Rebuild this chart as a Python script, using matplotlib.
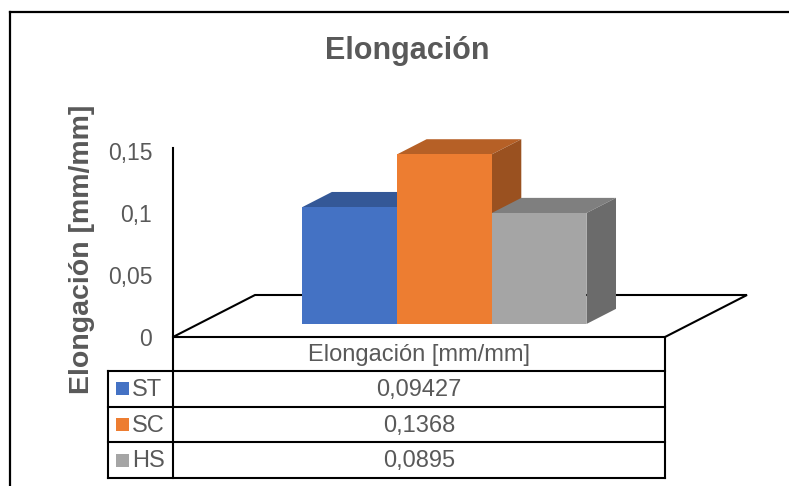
import matplotlib.pyplot as plt
from matplotlib.patches import Polygon, Rectangle
from matplotlib.lines import Line2D
from matplotlib.ticker import FuncFormatter
import numpy as np

plt.rcParams['font.family'] = ['Liberation Sans', 'DejaVu Sans']

series = ['ST', 'SC', 'HS']
elongacion = [0.09427, 0.1368, 0.0895]
category = 'Elongación [mm/mm]'
colors = ['#4472C4', '#ED7D31', '#A5A5A5']
y_ticks = [0, 0.05, 0.1, 0.15]

TXT = '#595959'
W, H = 789, 486


def shade(hex_color, k):
    r, g, b = (int(hex_color[i:i + 2], 16) for i in (1, 3, 5))
    return (r * k / 255, g * k / 255, b * k / 255)


fig = plt.figure(figsize=(W / 100, H / 100), dpi=100)

# plotting area: front edge of the floor, 0 .. 0.15
left_px, right_px, base_px, top_px = 173, 665, 337, 151
ax = fig.add_axes([left_px / W, 1 - base_px / H,
                   (right_px - left_px) / W, (base_px - top_px) / H])
ax.set_xlim(-0.5, 0.5)
ax.set_ylim(0, 0.15)
for s in ['top', 'right', 'bottom']:
    ax.spines[s].set_visible(False)
ax.spines['left'].set_linewidth(1.5)
ax.spines['left'].set_bounds(0, 0.1525)
ax.set_xticks([])
ax.set_yticks(y_ticks)
ax.yaxis.set_major_formatter(FuncFormatter(lambda v, p: f'{v:g}'.replace('.', ',')))
ax.tick_params(axis='y', length=0, pad=15, labelsize=16.5, labelcolor=TXT)
ax.patch.set_visible(False)

# depth of the floor in data units (82 px right, 42 px up)
sx = (right_px - left_px) / 1.0
sy = (base_px - top_px) / 0.15
ddx, ddy = 82 / sx, 42 / sy

floor = Polygon([(-0.5, 0), (0.5, 0), (0.5 + ddx, ddy), (-0.5 + ddx, ddy)],
                closed=True, fill=False, edgecolor='black', linewidth=1.5,
                clip_on=False, zorder=1)
ax.add_patch(floor)

# 3D columns: front face + top + right side
bar_w = 0.1925
x_pos = (np.arange(len(series)) - 1) * bar_w
f0, f1 = 0.31, 0.67
ox0, oy0 = f0 * ddx, f0 * ddy
ox1, oy1 = f1 * ddx, f1 * ddy

for i, (x, v, c) in enumerate(zip(x_pos, elongacion, colors)):
    xl, xr = x - bar_w / 2, x + bar_w / 2
    z = 3 + i * 3
    top = Polygon([(xl + ox0, v + oy0), (xr + ox0, v + oy0),
                   (xr + ox1, v + oy1), (xl + ox1, v + oy1)],
                  closed=True, facecolor=shade(c, 0.77), edgecolor='none',
                  clip_on=False, zorder=z)
    side = Polygon([(xr + ox0, oy0), (xr + ox1, oy1),
                    (xr + ox1, v + oy1), (xr + ox0, v + oy0)],
                   closed=True, facecolor=shade(c, 0.65), edgecolor='none',
                   clip_on=False, zorder=z + 1)
    ax.add_patch(top)
    ax.add_patch(side)
    ax.bar(x + ox0, v, bar_w, bottom=oy0, color=c, zorder=z + 2, clip_on=False)

# data table under the chart
tab = fig.add_axes([0, 0, 1, 1])
tab.set_xlim(0, W)
tab.set_ylim(H, 0)
tab.axis('off')

leg_l, col_l, col_r = 108, left_px, right_px
row_y = np.linspace(371, 478, len(series) + 1)
lw = 1.5
tab.plot([col_l, col_l], [base_px, row_y[-1]], color='black', lw=lw)
tab.plot([col_r, col_r], [base_px, row_y[-1]], color='black', lw=lw)
tab.plot([leg_l, leg_l], [row_y[0], row_y[-1]], color='black', lw=lw)
for yy in row_y:
    tab.plot([leg_l, col_r], [yy, yy], color='black', lw=lw)

tab.text((col_l + col_r) / 2, (base_px + row_y[0]) / 2 + 1, category,
         ha='center', va='center', fontsize=17, color=TXT)
for i, (name, v, c) in enumerate(zip(series, elongacion, colors)):
    yc = (row_y[i] + row_y[i + 1]) / 2
    tab.add_patch(Rectangle((116, yc - 6.5), 13, 13, facecolor=c, edgecolor='none'))
    tab.text(132, yc + 1, name, ha='left', va='center', fontsize=17, color=TXT)
    tab.text((col_l + col_r) / 2, yc + 1, str(v).replace('.', ','),
             ha='center', va='center', fontsize=17, color=TXT)

# titles
fig.text(407 / W, 1 - 59 / H, 'Elongación', ha='center', va='baseline',
         fontsize=22, fontweight='bold', color=TXT)
fig.text(82 / W, 1 - 249 / H, 'Elongación [mm/mm]', rotation=90,
         ha='center', va='center', fontsize=20.5, fontweight='bold', color=TXT)

# chart frame
fig.add_artist(Line2D([10 / W, 10 / W], [1 - 12 / H, 0], color='black', lw=1.6))
fig.add_artist(Line2D([10 / W, 1], [1 - 12 / H, 1 - 12 / H], color='black', lw=1.6))

fig.savefig('out.png', dpi=100)
